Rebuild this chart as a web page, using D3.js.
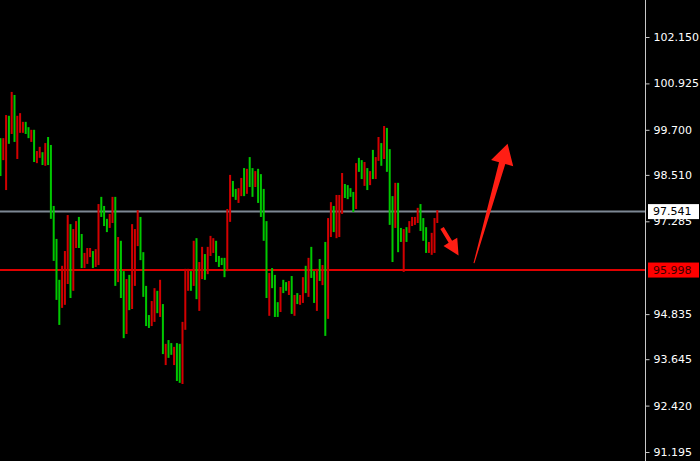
<!DOCTYPE html>
<html>
<head>
<meta charset="utf-8">
<script src="https://cdn.jsdelivr.net/npm/d3@7"></script>
<style>
  html, body { margin: 0; padding: 0; background: #000; }
  svg { display: block; }
</style>
</head>
<body>
<svg id="chart" width="700" height="461"></svg>
<script>
// ---- data ----
const opens = [98.48,99.48,100.09,99.33,100.70,99.38,100.07,100.14,99.91,99.59,
  99.48,99.70,98.85,99.14,99.25,98.77,99.35,98.77,97.35,96.24,
  95.21,94.55,96.11,96.50,97.45,95.26,97.08,97.29,96.58,96.05,
  96.45,96.58,96.58,96.05,96.55,97.74,97.40,97.16,97.00,97.48,
  97.93,95.58,96.87,95.26,94.20,95.76,94.94,97.21,97.08,97.58,
  96.26,95.29,94.52,94.47,95.18,95.52,94.86,95.74,93.78,94.05,
  93.68,93.76,93.97,93.07,93.02,94.63,96.03,96.03,95.45,96.77,
  95.23,96.21,96.61,95.74,96.61,96.90,96.84,96.21,96.08,96.13,
  95.81,97.61,98.51,97.93,97.85,98.16,98.43,97.95,98.67,98.19,
  97.93,98.61,97.77,97.40,96.77,95.26,95.92,95.52,94.76,94.76,
  95.55,95.39,95.45,95.71,94.84,95.34,95.10,95.34,95.81,95.39,
  96.32,95.79,95.13,96.03,95.71,96.13,94.26,97.37,97.79,97.00,
  97.98,97.98,98.56,97.90,97.87,97.93,97.53,98.82,98.59,98.40,
  98.85,98.11,98.61,98.40,98.98,99.51,98.75,99.80,98.59,97.19,
  96.21,98.30,96.47,96.74,97.08,96.74,97.29,97.40,97.40,97.64,
  97.03,96.77,96.45,96.74,96.98,97.37,97.58];
const closes = [99.48,98.90,98.11,100.07,99.59,100.62,98.93,99.62,99.62,99.91,
  99.77,99.38,99.70,98.82,98.96,99.11,98.75,99.51,99.30,97.69,
  96.82,95.74,95.00,95.08,95.63,97.21,95.45,96.58,97.40,96.95,
  96.05,96.16,96.34,96.50,96.08,96.13,97.93,97.69,97.35,97.11,
  97.24,97.93,95.68,96.77,95.97,94.31,95.87,94.97,95.58,96.63,
  97.40,96.47,95.58,94.81,94.52,94.63,95.45,94.76,95.10,93.49,
  94.15,94.07,93.49,94.07,94.05,92.99,94.42,95.45,95.97,95.58,
  96.84,94.92,95.76,96.42,95.89,96.37,96.45,96.77,96.37,96.32,
  96.32,95.97,97.27,98.35,98.14,97.77,97.95,98.69,98.01,98.98,
  98.69,98.19,98.67,98.53,98.14,97.29,94.79,96.05,95.87,95.15,
  94.89,95.74,95.68,95.34,95.84,94.79,95.39,95.08,95.13,96.11,
  95.29,96.61,95.97,94.92,96.29,95.60,96.74,94.71,96.87,97.69,
  96.84,96.87,97.48,98.27,98.24,98.16,98.06,97.61,98.96,98.90,
  98.22,98.69,98.24,99.17,98.40,98.88,99.35,98.93,99.75,99.19,
  97.95,97.11,98.30,97.11,95.95,97.13,96.98,97.16,97.19,97.24,
  97.74,97.37,97.13,96.45,96.40,96.45,97.24];
const tickValues = [102.150, 100.925, 99.700, 98.510, 97.285, 94.835, 93.645, 92.420, 91.195];
const currentPrice = 97.541;   // grey line
const supportLevel = 95.998;   // red line
// annotation arrows, in (bar index, price) units
const arrowFrom = [[157.7, 97.11], [169.1, 96.18]];
const arrowTo   = [[163.6, 96.38], [181.1, 99.33]];

// ---- layout ----
const W = 700, H = 461, axisX = 645;
const svg = d3.select("#chart");
svg.append("rect").attr("width", W).attr("height", H).attr("fill", "#000");

const n = opens.length;
const x = d3.scaleLinear().domain([0, n - 1]).range([0.5, 437.3]);
const y = d3.scaleLinear().domain([91.195, 102.150]).range([452, 37]);

const bars = d3.range(n).map(i => ({ i, o: opens[i], c: closes[i] }));

// level lines
svg.append("line").attr("x1", 0).attr("x2", axisX)
  .attr("y1", y(currentPrice)).attr("y2", y(currentPrice))
  .attr("stroke", "#7d8793").attr("stroke-width", 2);
svg.append("line").attr("x1", 0).attr("x2", axisX)
  .attr("y1", y(supportLevel)).attr("y2", y(supportLevel))
  .attr("stroke", "#e00000").attr("stroke-width", 2);

// bars
svg.append("g").selectAll("rect").data(bars).join("rect")
  .attr("x", d => x(d.i) - 1)
  .attr("width", 2)
  .attr("y", d => y(Math.max(d.o, d.c)))
  .attr("height", d => Math.max(1, Math.abs(y(d.o) - y(d.c))))
  .attr("fill", d => d.c >= d.o ? "#00c800" : "#d20000");

// arrows
function arrowPath(p0, p1, w0, w1, headLen, headHalf) {
  const dx = p1[0] - p0[0], dy = p1[1] - p0[1];
  const L = Math.hypot(dx, dy), ux = dx / L, uy = dy / L, nx = -uy, ny = ux;
  const bx = p1[0] - ux * headLen, by = p1[1] - uy * headLen;
  const pts = [
    [p0[0] + nx * w0 / 2, p0[1] + ny * w0 / 2],
    [bx + nx * w1 / 2, by + ny * w1 / 2],
    [bx + nx * headHalf, by + ny * headHalf],
    p1,
    [bx - nx * headHalf, by - ny * headHalf],
    [bx - nx * w1 / 2, by - ny * w1 / 2],
    [p0[0] - nx * w0 / 2, p0[1] - ny * w0 / 2]
  ];
  return "M" + pts.map(p => p.join(",")).join("L") + "Z";
}
const arrowStyle = [
  { w0: 4, w1: 4, hl: 16, hh: 8 },
  { w0: 1, w1: 6.5, hl: 20, hh: 11.5 }
];
arrowFrom.forEach((f, k) => {
  const s = arrowStyle[k];
  svg.append("path")
    .attr("d", arrowPath([x(f[0]), y(f[1])], [x(arrowTo[k][0]), y(arrowTo[k][1])], s.w0, s.w1, s.hl, s.hh))
    .attr("fill", "#ff1e14");
});

// axis
svg.append("line").attr("x1", axisX + 0.5).attr("x2", axisX + 0.5)
  .attr("y1", 0).attr("y2", H).attr("stroke", "#c8c8c8").attr("stroke-width", 1);
const axis = d3.axisRight(y).tickValues(tickValues)
  .tickFormat(d3.format(".3f")).tickSize(4).tickPadding(4);
const ag = svg.append("g").attr("transform", `translate(${axisX + 0.5},0)`).call(axis);
ag.select(".domain").remove();
ag.selectAll(".tick line").attr("stroke", "#c8c8c8");
ag.selectAll(".tick text").attr("fill", "#ffffff")
  .style("font-family", "DejaVu Sans").style("font-size", "11px");

// price labels
function priceBox(v, fill, textFill) {
  const g = svg.append("g");
  g.append("rect").attr("x", 648).attr("y", y(v) - 7.5).attr("width", 51).attr("height", 15)
    .attr("fill", fill);
  g.append("text").attr("x", 653).attr("y", y(v)).attr("dy", "0.35em")
    .attr("fill", textFill).style("font-family", "DejaVu Sans").style("font-size", "11px")
    .text(d3.format(".3f")(v));
}
priceBox(currentPrice, "#ffffff", "#000000");
priceBox(supportLevel, "#ff0000", "#3a0000");
</script>
</body>
</html>
